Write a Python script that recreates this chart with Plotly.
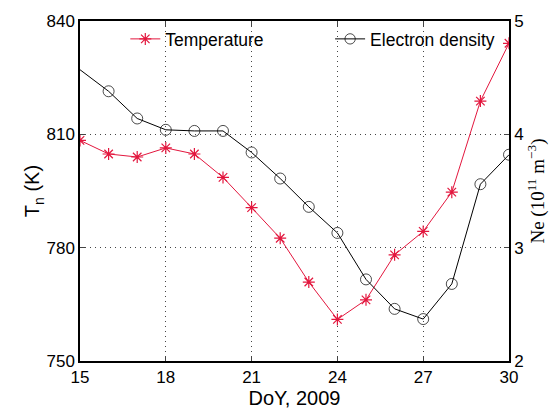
import plotly.graph_objects as go

doy = [15, 16, 17, 18, 19, 20, 21, 22, 23, 24, 25, 26, 27, 28, 29, 30]
temperature = [808.4, 804.8, 804.0, 806.4, 804.8, 798.6, 790.6, 782.5, 770.9,
               761.0, 766.2, 778.1, 784.3, 794.7, 818.8, 834.1]
ne_doy = [15, 16, 17, 18, 19, 20, 21, 22, 23, 24, 25, 26, 27, 28, 29, 30]
electron_density = [4.57, 4.38, 4.14, 4.04, 4.03, 4.03, 3.84, 3.61, 3.36, 3.13,
                    2.72, 2.46, 2.37, 2.68, 3.56, 3.82]
ne_marker_size = [0] + [11] * 15

x_ticks = [15, 18, 21, 24, 27, 30]
t_ticks = [750, 780, 810, 840]
ne_ticks = [2, 3, 4, 5]

red = "#e3173e"
font = "Liberation Sans, Arial, sans-serif"
grid = dict(showgrid=True, gridcolor="#444444", griddash="1px,4px", gridwidth=1)

fig = go.Figure()
fig.add_trace(go.Scatter(
    x=doy, y=temperature, name="Temperature", mode="lines+markers",
    line=dict(color=red, width=1), legend="legend",
    marker=dict(symbol="asterisk-open", size=10, color=red, line=dict(color=red, width=1.2)),
))
fig.add_trace(go.Scatter(
    x=ne_doy, y=electron_density, name="Electron density", mode="lines+markers",
    yaxis="y2", legend="legend2",
    line=dict(color="black", width=1),
    marker=dict(symbol="circle-open", size=ne_marker_size, color="black",
                line=dict(color="black", width=1)),
))

fig.update_layout(
    width=555, height=413,
    margin=dict(l=80, r=44, t=16, b=49),
    plot_bgcolor="white", paper_bgcolor="white",
    font=dict(family=font, size=17, color="black"),
    showlegend=True,
    legend=dict(x=0.1056, y=1.0, xanchor="left", yanchor="top",
                bgcolor="rgba(0,0,0,0)", font=dict(size=17.5)),
    legend2=dict(x=0.583, y=1.0, xanchor="left", yanchor="top",
                 bgcolor="rgba(0,0,0,0)", font=dict(size=17.5)),
    xaxis=dict(range=[15, 30], tickvals=x_ticks, ticks="inside", ticklen=5,
               showline=True, linecolor="black", linewidth=1.5, mirror="ticks",
               zeroline=False, **grid,
               title=dict(text="DoY, 2009", standoff=0)),
    yaxis=dict(range=[750, 840], tickvals=t_ticks, ticks="inside", ticklen=5,
               showline=True, linecolor="black", linewidth=1.5,
               zeroline=False, **grid,
               title=dict(text="T<sub>n</sub> (K)", standoff=1)),
    yaxis2=dict(range=[2, 5], tickvals=ne_ticks, ticks="inside", ticklen=5,
                overlaying="y", side="right",
                showline=True, linecolor="black", linewidth=1.5,
                showgrid=False, zeroline=False,
                title=dict(text="Ne (10<sup>11</sup> m<sup>−3</sup>)",
                           font=dict(family="Liberation Serif, Times New Roman, serif", size=19),
                           standoff=6)),
)

fig.write_html("out.html")
